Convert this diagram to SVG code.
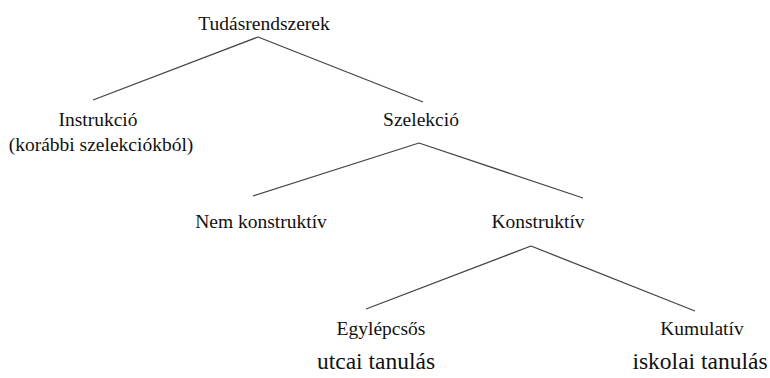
<svg xmlns="http://www.w3.org/2000/svg" width="770" height="378" viewBox="0 0 770 378">
<style>
text{font-family:'Times New Roman','Liberation Serif',Times,serif;font-size:19.5px;fill:#111;text-anchor:middle}
text.b{font-size:23.5px}
#connectors line{stroke:#444;stroke-width:1.3}
</style>
<rect width="770" height="378" fill="#fff"/>
<g id="connectors">
<line x1="258" y1="37" x2="93" y2="100"/>
<line x1="258" y1="37" x2="423" y2="102"/>
<line x1="419" y1="143" x2="253" y2="196"/>
<line x1="419" y1="143" x2="583" y2="198"/>
<line x1="531" y1="246" x2="366" y2="309"/>
<line x1="531" y1="246" x2="695" y2="311"/>
</g>
<g id="root"><text x="264" y="30">Tudásrendszerek</text></g>
<g id="instrukcio"><text x="98" y="126">Instrukció</text><text x="101" y="151">(korábbi szelekciókból)</text></g>
<g id="szelekcio"><text x="421" y="126">Szelekció</text></g>
<g id="nemkonstruktiv"><text x="261" y="228">Nem konstruktív</text></g>
<g id="konstruktiv"><text x="538" y="228">Konstruktív</text></g>
<g id="egylepcsos"><text x="381" y="335">Egylépcsős</text></g>
<g id="kumulativ"><text x="702" y="335">Kumulatív</text></g>
<g id="utcai"><text class="b" x="376" y="369">utcai tanulás</text></g>
<g id="iskolai"><text class="b" x="700" y="369">iskolai tanulás</text></g>
</svg>
